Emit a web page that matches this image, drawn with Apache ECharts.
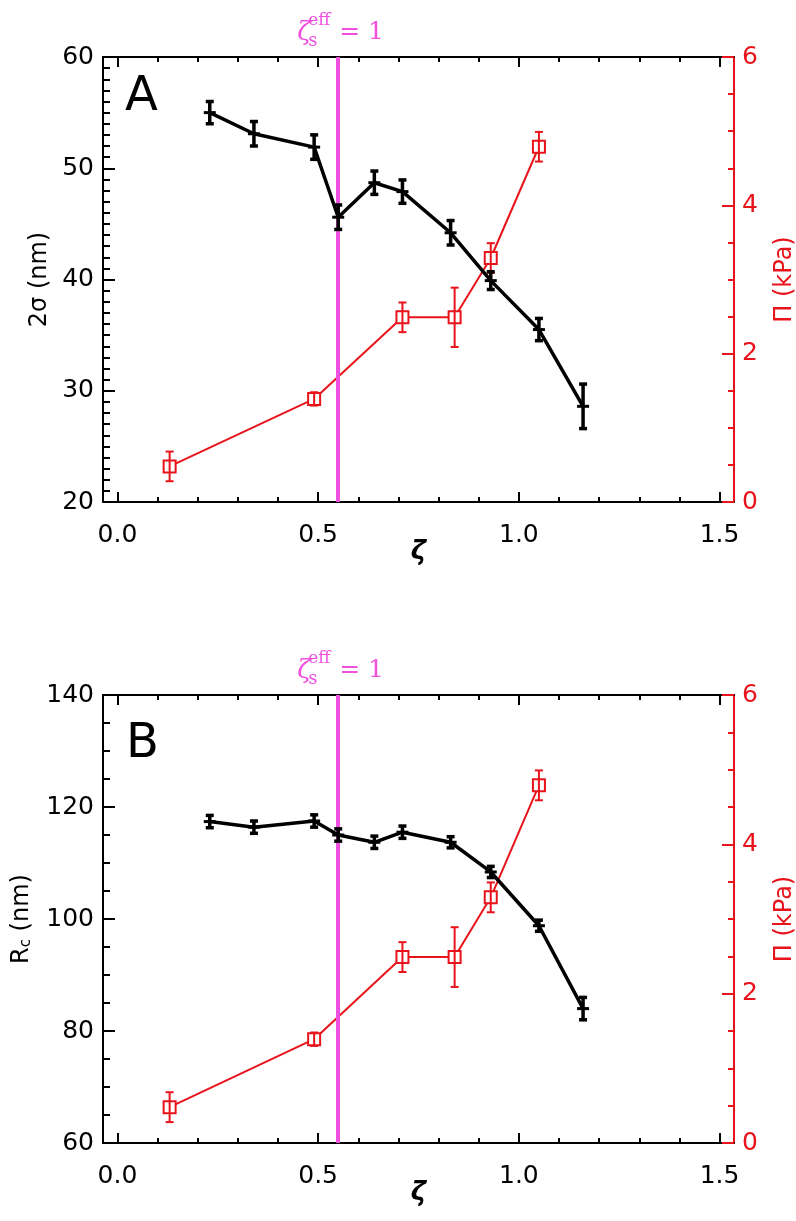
<!DOCTYPE html>
<html><head><meta charset="utf-8">
<script src="https://cdn.jsdelivr.net/npm/echarts@6/dist/echarts.min.js"></script>
<style>html,body{margin:0;padding:0;background:#fff}#c{width:796px;height:1221px}</style>
</head><body><div id="c"></div>
<script>
// ---- data ----
const zetaBlack = [0.23, 0.34, 0.49, 0.55, 0.64, 0.71, 0.83, 0.93, 1.05, 1.16];
const twoSigma = [55.0, 53.1, 51.9, 45.6, 48.7, 47.9, 44.2, 39.9, 35.5, 28.6];
const twoSigmaErr = [1.0, 1.1, 1.1, 1.1, 1.05, 1.05, 1.1, 0.8, 1.0, 2.0];
const rc = [117.4, 116.4, 117.5, 115.0, 113.7, 115.5, 113.7, 108.4, 98.8, 84.0];
const rcErr = [1.1, 1.1, 1.1, 1.1, 1.1, 1.1, 1.0, 1.0, 1.0, 2.0];
const zetaRed = [0.13, 0.49, 0.71, 0.84, 0.93, 1.05];
const piKPa = [0.48, 1.39, 2.49, 2.49, 3.29, 4.79];
const piErr = [0.2, 0.09, 0.2, 0.4, 0.2, 0.2];
const zetaSeff1 = 0.55;
const xTicks = [0.0, 0.5, 1.0, 1.5];
const xMinorTicks = [0.1,0.2,0.3,0.4,0.6,0.7,0.8,0.9,1.1,1.2,1.3,1.4];
const yTicksA = [20, 30, 40, 50, 60];
const yTicksB = [60, 80, 100, 120, 140];
const piTicks = [0, 2, 4, 6];

// ---- styling ----
const F = 'DejaVu Sans';
const RED = '#e8131b';
const MAG = '#f04fe0';
const XMIN = -0.036, XMAX = 1.536;
const range = (a, b, s) => { const r = []; for (let v = a; v <= b + 1e-9; v += s) r.push(Math.round(v * 1000) / 1000); return r; };
const minorOf = (a, b, s, majors) => range(a, b, s).filter(v => !majors.some(m => Math.abs(m - v) < 1e-6));

function xAxes(gi) {
  const base = { gridIndex: gi, type: 'value', min: XMIN, max: XMAX, splitLine: { show: false } };
  const line = { show: true, onZero: false, lineStyle: { color: '#000', width: 2 } };
  return [
    Object.assign({}, base, { position: 'bottom', axisLine: line,
      axisTick: { inside: true, length: 10, customValues: xTicks, lineStyle: { color: '#000', width: 2 } },
      axisLabel: { customValues: xTicks, formatter: v => v.toFixed(1), fontSize: 25, fontFamily: F, color: '#000', margin: 21 },
      name: 'ζ', nameLocation: 'middle', nameGap: 37, nameMoveOverlap: false,
      nameTextStyle: { fontSize: 26, fontFamily: F, fontStyle: 'italic', fontWeight: 'bold', color: '#000' } }),
    Object.assign({}, base, { position: 'bottom', axisLine: { show: false, onZero: false },
      axisTick: { inside: true, length: 5, customValues: xMinorTicks, lineStyle: { color: '#000', width: 2 } },
      axisLabel: { show: false } }),
    Object.assign({}, base, { position: 'top', axisLine: line,
      axisTick: { inside: true, length: 10, customValues: xTicks, lineStyle: { color: '#000', width: 2 } },
      axisLabel: { show: false } }),
    Object.assign({}, base, { position: 'top', axisLine: { show: false, onZero: false },
      axisTick: { inside: true, length: 5, customValues: xMinorTicks, lineStyle: { color: '#000', width: 2 } },
      axisLabel: { show: false } })
  ];
}
function yAxes(gi, lmin, lmax, lticks, lminor, lname, lgap, lrich) {
  const rminor = minorOf(0, 6, 0.5, piTicks);
  return [
    { gridIndex: gi, type: 'value', position: 'left', min: lmin, max: lmax, splitLine: { show: false },
      axisLine: { show: true, onZero: false, lineStyle: { color: '#000', width: 2 } },
      axisTick: { inside: true, length: 12, customValues: lticks, lineStyle: { color: '#000', width: 2 } },
      axisLabel: { customValues: lticks, fontSize: 25, fontFamily: F, color: '#000', margin: 9 },
      name: lname, nameLocation: 'middle', nameGap: lgap,
      nameTextStyle: { fontSize: 24, fontFamily: F, color: '#000', rich: lrich } },
    { gridIndex: gi, type: 'value', position: 'left', min: lmin, max: lmax, splitLine: { show: false },
      axisLine: { show: false, onZero: false },
      axisTick: { inside: true, length: 7, customValues: lminor, lineStyle: { color: '#000', width: 2 } },
      axisLabel: { show: false } },
    { gridIndex: gi, type: 'value', position: 'right', min: 0, max: 6, splitLine: { show: false },
      axisLine: { show: true, onZero: false, lineStyle: { color: RED, width: 2 } },
      axisTick: { inside: true, length: 12, customValues: piTicks, lineStyle: { color: RED, width: 2 } },
      axisLabel: { customValues: piTicks, fontSize: 25, fontFamily: F, color: RED, margin: 8 },
      name: 'Π (kPa)', nameLocation: 'middle', nameGap: 39, nameRotate: 90,
      nameTextStyle: { fontSize: 24, fontFamily: F, color: RED } },
    { gridIndex: gi, type: 'value', position: 'right', min: 0, max: 6, splitLine: { show: false },
      axisLine: { show: false, onZero: false },
      axisTick: { inside: true, length: 6, customValues: rminor, lineStyle: { color: RED, width: 2 } },
      axisLabel: { show: false } }
  ];
}

function errBars(color, lw, cap, plusArm) {
  return function (params, api) {
    const x = api.value(0), y = api.value(1), e = api.value(2);
    const p = api.coord([x, y]), t = api.coord([x, y + e]), b = api.coord([x, y - e]);
    const st = { stroke: color, lineWidth: lw };
    const ch = [
      { type: 'line', shape: { x1: p[0], y1: t[1], x2: p[0], y2: b[1] }, style: st },
      { type: 'line', shape: { x1: p[0] - cap, y1: t[1], x2: p[0] + cap, y2: t[1] }, style: st },
      { type: 'line', shape: { x1: p[0] - cap, y1: b[1], x2: p[0] + cap, y2: b[1] }, style: st }
    ];
    if (plusArm) ch.push({ type: 'line', shape: { x1: p[0] - plusArm, y1: p[1], x2: p[0] + plusArm, y2: p[1] }, style: { stroke: color, lineWidth: 3 } });
    return { type: 'group', children: ch };
  };
}
const zip = (xs, ys) => xs.map((x, i) => [x, ys[i]]);
const zip3 = (xs, ys, es) => xs.map((x, i) => [x, ys[i], es[i]]);

function panelSeries(xi, yl, yr, blackY, blackE) {
  return [
    { type: 'line', xAxisIndex: xi, yAxisIndex: yl, data: [], z: 1, silent: true,
      markLine: { silent: true, symbol: ['none', 'none'], animation: false, label: { show: false },
        lineStyle: { color: MAG, width: 4, type: 'solid' }, data: [{ xAxis: zetaSeff1 }] } },
    { type: 'line', xAxisIndex: xi, yAxisIndex: yr, data: zip(zetaRed, piKPa), z: 3,
      symbol: 'rect', symbolSize: 12, showAllSymbol: true,
      lineStyle: { color: RED, width: 2 },
      itemStyle: { color: '#fff', borderColor: RED, borderWidth: 2 } },
    { type: 'custom', xAxisIndex: xi, yAxisIndex: yr, data: zip3(zetaRed, piKPa, piErr), z: 4,
      renderItem: errBars(RED, 2, 4, 0), encode: { x: 0, y: 1 } },
    { type: 'line', xAxisIndex: xi, yAxisIndex: yl, data: zip(zetaBlack, blackY), z: 5,
      symbol: 'none', lineStyle: { color: '#000', width: 3.5 } },
    { type: 'custom', xAxisIndex: xi, yAxisIndex: yl, data: zip3(zetaBlack, blackY, blackE), z: 6,
      renderItem: errBars('#000', 3.5, 4, 6), encode: { x: 0, y: 1 } }
  ];
}

const chart = echarts.init(document.getElementById('c'), null, { renderer: 'canvas' });
const GRID_A = { left: 103, top: 57, right: 62, height: 445, outerBoundsMode: 'none', containLabel: false };
const GRID_B = { left: 103, top: 695, right: 62, height: 448, outerBoundsMode: 'none', containLabel: false };
chart.setOption({
  animation: false,
  backgroundColor: '#fff',
  grid: [GRID_A, GRID_B],
  xAxis: xAxes(0).concat(xAxes(1)),
  yAxis: yAxes(0, 20, 60, yTicksA, minorOf(20, 60, 1, yTicksA), '2σ (nm)', 44, {})
    .concat(yAxes(1, 60, 140, yTicksB, minorOf(60, 140, 5, yTicksB), '{r|R}{c|c}{r| (nm)}', 69,
      { r: { fontSize: 24, fontFamily: F, color: '#000' }, c: { fontSize: 15, fontFamily: F, color: '#000', verticalAlign: 'bottom' } })),
  series: panelSeries(0, 0, 2, twoSigma, twoSigmaErr).concat(panelSeries(4, 4, 6, rc, rcErr))
});

// annotations: panel letters and the zeta_s^eff = 1 label above the magenta line
function zetaLabel(top) {
  const cx = chart.convertToPixel({ xAxisIndex: 0 }, zetaSeff1);
  const serif = 'DejaVu Serif';
  return [
    { type: 'text', left: cx - 41, top: top - 37, style: { text: 'ζ', font: 'italic 26px ' + serif, fill: MAG } },
    { type: 'text', left: cx - 30, top: top - 45, style: { text: 'eff', font: '17px ' + serif, fill: MAG } },
    { type: 'text', left: cx - 30, top: top - 25, style: { text: 's', font: '18px ' + serif, fill: MAG } },
    { type: 'text', left: cx + 1, top: top - 37, style: { text: '= 1', font: '25px ' + serif, fill: MAG } }
  ];
}
chart.setOption({
  graphic: [
    { type: 'text', left: 125, top: 74, style: { text: 'A', font: '48px ' + F, fill: '#000' } },
    { type: 'text', left: 126, top: 721, style: { text: 'B', font: '48px ' + F, fill: '#000' } }
  ].concat(zetaLabel(GRID_A.top)).concat(zetaLabel(GRID_B.top))
});
</script></body></html>
